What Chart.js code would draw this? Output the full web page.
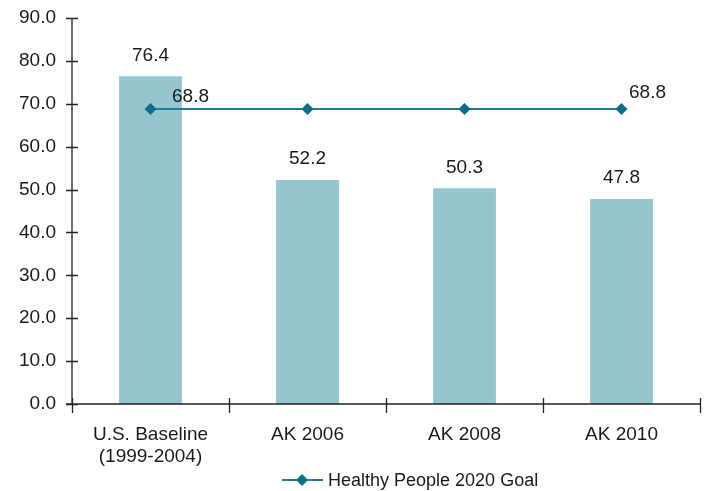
<!DOCTYPE html>
<html>
<head>
<meta charset="utf-8">
<script src="https://cdn.jsdelivr.net/npm/chart.js@4/dist/chart.umd.min.js"></script>
<style>
  html, body { margin: 0; padding: 0; background: #fff; }
  #wrap { width: 707px; height: 491px; }
</style>
</head>
<body>
<div id="wrap"><canvas id="c" width="707" height="491"></canvas></div>
<script>
const categories = [["U.S. Baseline", "(1999-2004)"], "AK 2006", "AK 2008", "AK 2010"];
const rateValues = [76.4, 52.2, 50.3, 47.8];
const goalValues = [68.8, 68.8, 68.8, 68.8];
const goalLabelShown = [true, false, false, true];
const yTicks = [0, 10, 20, 30, 40, 50, 60, 70, 80, 90];
const legendText = "Healthy People 2020 Goal";

const FONT = '"Liberation Sans", Arial, sans-serif';
const TEXT = '#1a1a1a';
const BAR = '#96c4cf';
const LINE = '#1f7d96';
const MARK = '#0b6e89';

// Axis lines with tick marks that cross the axis, value labels and a legend
const decorations = {
  id: 'decorations',
  afterDatasetsDraw(chart) {
    const ctx = chart.ctx;
    const y = chart.scales.y;
    const area = chart.chartArea;
    ctx.save();
    ctx.strokeStyle = '#222';
    ctx.lineWidth = 1.3;
    // y axis
    ctx.beginPath();
    ctx.moveTo(area.left, y.getPixelForValue(90));
    ctx.lineTo(area.left, y.getPixelForValue(0));
    yTicks.forEach(v => {
      const py = Math.round(y.getPixelForValue(v)) + 0.5;
      ctx.moveTo(area.left - 6, py);
      ctx.lineTo(area.left + 6, py);
    });
    // x axis
    const py0 = y.getPixelForValue(0);
    ctx.moveTo(area.left - 6, py0);
    ctx.lineTo(area.right, py0);
    const n = categories.length;
    const step = (area.right - area.left) / n;
    for (let i = 0; i <= n; i++) {
      const px = Math.round(area.left + i * step) + 0.5;
      ctx.moveTo(px, py0 - 6);
      ctx.lineTo(px, py0 + 9);
    }
    ctx.stroke();

    // value labels
    ctx.fillStyle = TEXT;
    ctx.font = '19px ' + FONT;
    ctx.textAlign = 'center';
    ctx.textBaseline = 'middle';
    chart.getDatasetMeta(0).data.forEach((bar, i) => {
      ctx.fillText(rateValues[i].toFixed(1), bar.x, bar.y - 21);
    });
    const pts = chart.getDatasetMeta(1).data;
    pts.forEach((pt, i) => {
      if (!goalLabelShown[i]) return;
      const dx = i === 0 ? 40 : 26;
      const dy = i === 0 ? -12 : -16;
      ctx.fillText(goalValues[i].toFixed(1), pt.x + dx, pt.y + dy);
    });

    // legend
    const ly = 480;
    const lx = 282;
    ctx.strokeStyle = LINE;
    ctx.lineWidth = 2;
    ctx.beginPath();
    ctx.moveTo(lx, ly);
    ctx.lineTo(lx + 41, ly);
    ctx.stroke();
    ctx.fillStyle = MARK;
    ctx.beginPath();
    const cx = lx + 20;
    ctx.moveTo(cx, ly - 6);
    ctx.lineTo(cx + 6, ly);
    ctx.lineTo(cx, ly + 6);
    ctx.lineTo(cx - 6, ly);
    ctx.closePath();
    ctx.fill();
    ctx.fillStyle = TEXT;
    ctx.font = '18px ' + FONT;
    ctx.textAlign = 'left';
    ctx.fillText(legendText, lx + 46, ly + 1);
    ctx.restore();
  }
};

new Chart(document.getElementById('c'), {
  data: {
    labels: categories,
    datasets: [
      {
        type: 'bar',
        label: 'Rate',
        data: rateValues,
        backgroundColor: BAR,
        barPercentage: 0.4,
        categoryPercentage: 1.0,
        order: 2
      },
      {
        type: 'line',
        label: legendText,
        data: goalValues,
        borderColor: LINE,
        borderWidth: 2,
        pointStyle: 'rectRot',
        pointRadius: 6,
        pointHoverRadius: 6,
        pointBackgroundColor: MARK,
        pointBorderColor: MARK,
        pointBorderWidth: 0,
        order: 1
      }
    ]
  },
  options: {
    responsive: false,
    animation: false,
    layout: { padding: { top: 18, right: 7, left: 0, bottom: 0 } },
    plugins: { legend: { display: false }, tooltip: { enabled: false } },
    scales: {
      x: {
        grid: { display: false },
        border: { display: false },
        ticks: { color: TEXT, font: { size: 19, family: FONT }, padding: 11, maxRotation: 0 },
        afterFit(s) { s.height = 87; s.paddingLeft = 0; s.paddingRight = 0; }
      },
      y: {
        min: 0, max: 90,
        grid: { display: false, drawTicks: false },
        border: { display: false },
        ticks: {
          stepSize: 10, color: TEXT, font: { size: 19, family: FONT }, padding: 16,
          callback: v => v.toFixed(1)
        },
        afterFit(s) { s.width = 72; s.paddingTop = 0; s.paddingBottom = 0; }
      }
    }
  },
  plugins: [decorations]
});
</script>
</body>
</html>
